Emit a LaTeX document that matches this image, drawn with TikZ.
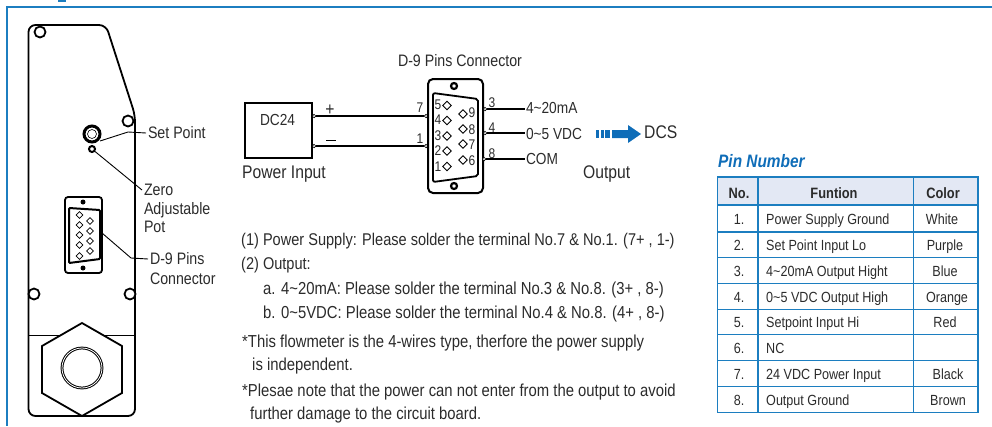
\documentclass[tikz,border=0pt]{standalone}
\usepackage{fontspec}
\setmainfont[FakeStretch=0.856]{Liberation Sans}
\usepackage{xcolor}
\usetikzlibrary{shapes.geometric}
\definecolor{framblue}{HTML}{1C7EC0}
\definecolor{headblue}{HTML}{E3E8F4}
\definecolor{titblue}{HTML}{0F6DB8}
\definecolor{inkgrey}{HTML}{2B2B2B}
\begin{document}
\begin{tikzpicture}[x=1pt,y=-1pt,text=inkgrey,every node/.style={inner sep=0pt}]
	\useasboundingbox (0,0) rectangle (992,426);
\tikzstyle{body}=[anchor=west,text height=14pt,text depth=4pt,font=\fontsize{17}{17}\selectfont]
\tikzstyle{bodyw}=[anchor=west,text height=14pt,text depth=4pt,font=\fontsize{17.35}{17.35}\selectfont]
\tikzstyle{mid}=[anchor=west,text height=14pt,text depth=4pt,outer sep=1pt,font=\fontsize{16}{16}\selectfont]
\tikzstyle{big}=[anchor=west,text height=15pt,text depth=4pt,font=\fontsize{18.3}{18.3}\selectfont]
\tikzstyle{lab}=[anchor=west,text height=14pt,text depth=4pt,outer sep=2pt,font=\fontsize{16.6}{16.6}\selectfont]
\tikzstyle{tiny}=[font=\fontsize{14}{14}\selectfont]
\tikzstyle{cell}=[text height=13pt,text depth=3pt,font=\fontsize{14.7}{14.7}\selectfont]
\tikzstyle{hcell}=[text height=13pt,text depth=3pt,font=\bfseries\fontsize{15}{15}\selectfont]
\tikzstyle{term}=[circle,draw=black,fill=white,line width=0.7pt,minimum size=3.5pt]
\tikzstyle{hole}=[circle,draw=black,fill=white,line width=1.8pt,minimum size=11pt]
\tikzstyle{pinmark}=[diamond,draw=black,fill=white,line width=0.9pt,minimum size=9pt]
\tikzstyle{smallpin}=[diamond,draw=black,fill=white,line width=0.7pt,minimum size=7pt]
\tikzstyle{screw}=[circle,draw=black,fill=white,line width=2.2pt,minimum size=6pt]
\tikzstyle{wire}=[line width=1.1pt,black]
\tikzstyle{leader}=[line width=0.9pt,black]
\tikzstyle{outline}=[line width=1.8pt,black]
\tikzstyle{gridline}=[line width=1.1pt,framblue]
\par
	\draw[framblue,line width=1.2pt] (992,7) -- (7,7) -- (7,426);
	\fill[framblue] (58,0) rectangle (66,2);
\par
	\draw[outline,rounded corners=7pt] (135,416) -- (135,115) -- (106,25) -- (28.5,25) -- (28.5,416) -- cycle;
	\draw[line width=0.8pt] (28.5,335) -- (135,335);
	\draw[outline,fill=white] (82,323) -- (122,346) -- (122,393) -- (82,416) -- (42,393) -- (42,346) -- cycle;
	\draw[line width=1pt,double,double distance=0.8pt] (82,368) circle (20);
	\node[hole] (H1) at (40,32) {};
	\node[hole] (H2) at (128,121) {};
	\node[hole] (H3) at (34,294) {};
	\node[hole] (H4) at (130,294) {};
\par
	\node[circle,draw=black,fill=white,line width=2pt,minimum size=6pt] (ZP) at (92,149) {};
	\node[circle,draw=black,line width=3pt,minimum size=16pt,fill=white] (SP) at (92,134) {};
	\node[circle,draw=black,line width=0.6pt,minimum size=9pt] at (92,134) {};
	\node[lab] (SPL) at (146,133) {Set Point};
	\node[lab] (ZL) at (142,190) {Zero};
	\node[lab] (ZL2) at (142,209) {Adjustable};
	\node[lab] (ZL3) at (142,227) {Pot};
	\node[lab] (DL) at (148,259) {D-9 Pins};
	\node[lab] (DL2) at (148,279) {Connector};
\par
	\draw[outline,rounded corners=3pt] (65,197) rectangle (102,273);
	\draw[line width=2pt,rounded corners=1pt] (69,208) -- (100,210) -- (100,259) -- (69,263) -- cycle;
	\node[circle,fill=black,minimum size=5pt] at (83,202) {};
	\node[circle,fill=black,minimum size=5pt] at (83,268) {};
	\node[smallpin] at (79.5,215) {};
	\node[smallpin] at (79.5,225) {};
	\node[smallpin] at (79.5,235) {};
	\node[smallpin] at (79.5,245) {};
	\node[smallpin] at (79.5,256) {};
	\node[smallpin] at (90,221) {};
	\node[smallpin] at (90,231) {};
	\node[smallpin] at (90,241) {};
	\node[smallpin] at (90,251) {};
\par
	\coordinate (SPB) at (128,132);
	\coordinate (SPA) at (100,141);
	\coordinate (DA) at (102,233);
	\coordinate (DB) at (131,258);
	\draw[leader] (SPA) -- (SPB) -- (SPL.west);
	\draw[leader] (ZP) -- (ZL.west);
	\draw[leader] (DA) -- (DB) -- (DL.west);
\par
	\node[lab] (CT) at (396,61) {D-9 Pins Connector};
	\draw[line width=1.8pt] (245,103) rectangle (312,158);
	\node[mid] (DC) at (259,120) {DC24};
	\node[big] (PI) at (242,173) {Power Input};
	\node[term] (A) at (314,116) {};
	\node[term] (B) at (314,146) {};
	\node[term] (C) at (426,116) {};
	\node[term] (D) at (426,146) {};
	\draw[wire] (A) -- (C);
	\draw[wire] (B) -- (D);
	\node[big,anchor=center,text height=13pt,text depth=0pt] (PL) at (330,109) {+};
	\draw[line width=1pt] (326,140) -- (336,140);
	\node[tiny] (N7) at (420,108) {7};
	\node[tiny] (N1) at (420,139) {1};
\par
	\draw[line width=2pt,rounded corners=5pt] (428,79) rectangle (483,193);
	\draw[line width=1.8pt,rounded corners=2pt] (433,93) -- (478,99) -- (478,176) -- (433,182) -- cycle;
	\node[screw] at (454,86) {};
	\node[screw] at (454,186) {};
	\node[pinmark] (P5) at (447,105.5) {};
	\node[pinmark] (P4) at (447,120.5) {};
	\node[pinmark] (P3) at (447,136) {};
	\node[pinmark] (P2) at (447,151) {};
	\node[pinmark] (P1) at (447,166.5) {};
	\node[pinmark] (P9) at (463,114) {};
	\node[pinmark] (P8) at (463,129) {};
	\node[pinmark] (P7) at (463,144) {};
	\node[pinmark] (P6) at (463,160) {};
	\node[tiny] at (438,105) {5};
	\node[tiny] at (438,120) {4};
	\node[tiny] at (438,136) {3};
	\node[tiny] at (438,151) {2};
	\node[tiny] at (438,167) {1};
	\node[tiny] at (472,113) {9};
	\node[tiny] at (472,130) {8};
	\node[tiny] at (472,145) {7};
	\node[tiny] at (472,161) {6};
\par
	\node[term] (E) at (485,109) {};
	\node[term] (F) at (485,133) {};
	\node[term] (G) at (484,159) {};
	\node[tiny] at (492,103) {3};
	\node[tiny] at (492,128) {4};
	\node[tiny] at (492,154) {8};
	\node[mid] (O1) at (525,108) {4\textasciitilde20mA};
	\node[mid] (O2) at (525,134) {0\textasciitilde5 VDC};
	\node[mid] (O3) at (525,159) {COM};
	\draw[wire] (E) -- (O1.west |- E);
	\draw[wire] (F) -- (O2.west |- F);
	\draw[wire] (G) -- (O3.west |- G);
\par
	\fill[titblue] (596,130) rectangle (598.5,138);
	\fill[titblue] (601,130) rectangle (603.5,138);
	\fill[titblue] (605,130) rectangle (610,138);
	\fill[titblue] (612,130) -- (628,130) -- (628,125) -- (641,134) -- (628,143) -- (628,138) -- (612,138) -- cycle;
	\node[big] (DCS) at (644,133) {DCS};
	\node[big] (OUT) at (583,173) {Output};
\par
	\node[body] (T1) at (241,240) {(1) Power Supply: Please solder the terminal No.7 \& No.1. (7+ , 1-)};
	\node[body] (T2) at (241,264) {(2) Output:};
	\node[bodyw] (T3) at (263,289) {a. 4\textasciitilde20mA: Please solder the terminal No.3 \& No.8. (3+ , 8-)};
	\node[bodyw] (T4) at (263,313) {b. 0\textasciitilde5VDC: Please solder the terminal No.4 \& No.8. (4+ , 8-)};
	\node[bodyw] (T5) at (242,342) {*This flowmeter is the 4-wires type, therfore the power supply};
	\node[bodyw] (T6) at (252,365) {is independent.};
	\node[bodyw] (T7) at (242,391) {*Plesae note that the power can not enter from the output to avoid};
	\node[bodyw] (T8) at (250,414) {further damage to the circuit board.};
\par
	\node[anchor=west,text=titblue,font=\bfseries\itshape\fontsize{18}{18}\selectfont] (PN) at (718,161) {Pin Number};
	\fill[headblue] (717.5,177) rectangle (978,205);
	\draw[gridline] (717.5,177) rectangle (978,412.5);
	\draw[gridline] (758,177) -- (758,412.5);
	\draw[gridline] (913.5,177) -- (913.5,412.5);
	\draw[gridline] (717.5,205) -- (978,205);
	\draw[gridline] (717.5,232) -- (978,232);
	\draw[gridline] (717.5,257.5) -- (978,257.5);
	\draw[gridline] (717.5,283.5) -- (978,283.5);
	\draw[gridline] (717.5,309.5) -- (978,309.5);
	\draw[gridline] (717.5,334.5) -- (978,334.5);
	\draw[gridline] (717.5,360.5) -- (978,360.5);
	\draw[gridline] (717.5,386.5) -- (978,386.5);
\par
	\node[hcell] (H0) at (739,193) {No.};
	\node[hcell] (H5) at (834,193) {Funtion};
	\node[hcell] (H6) at (943,193) {Color};
	\node[cell] at (739,219) {1.};
	\node[cell] at (739,245) {2.};
	\node[cell] at (739,271) {3.};
	\node[cell] at (739,297) {4.};
	\node[cell] at (739,322) {5.};
	\node[cell] at (739,348) {6.};
	\node[cell] at (739,374) {7.};
	\node[cell] at (739,400) {8.};
	\node[cell,anchor=west] at (766,219) {Power Supply Ground};
	\node[cell,anchor=west] at (766,245) {Set Point Input Lo};
	\node[cell,anchor=west] at (766,271) {4\textasciitilde20mA Output Hight};
	\node[cell,anchor=west] at (766,297) {0\textasciitilde5 VDC Output High};
	\node[cell,anchor=west] at (766,322) {Setpoint Input Hi};
	\node[cell,anchor=west] at (766,348) {NC};
	\node[cell,anchor=west] at (766,374) {24 VDC Power Input};
	\node[cell,anchor=west] at (766,400) {Output Ground};
	\node[cell] at (942,219) {White};
	\node[cell] at (945,245) {Purple};
	\node[cell] at (945,271) {Blue};
	\node[cell] at (947,297) {Orange};
	\node[cell] at (945,322) {Red};
	\node[cell] at (948,374) {Black};
	\node[cell] at (948,400) {Brown};
\end{tikzpicture}
\end{document}
